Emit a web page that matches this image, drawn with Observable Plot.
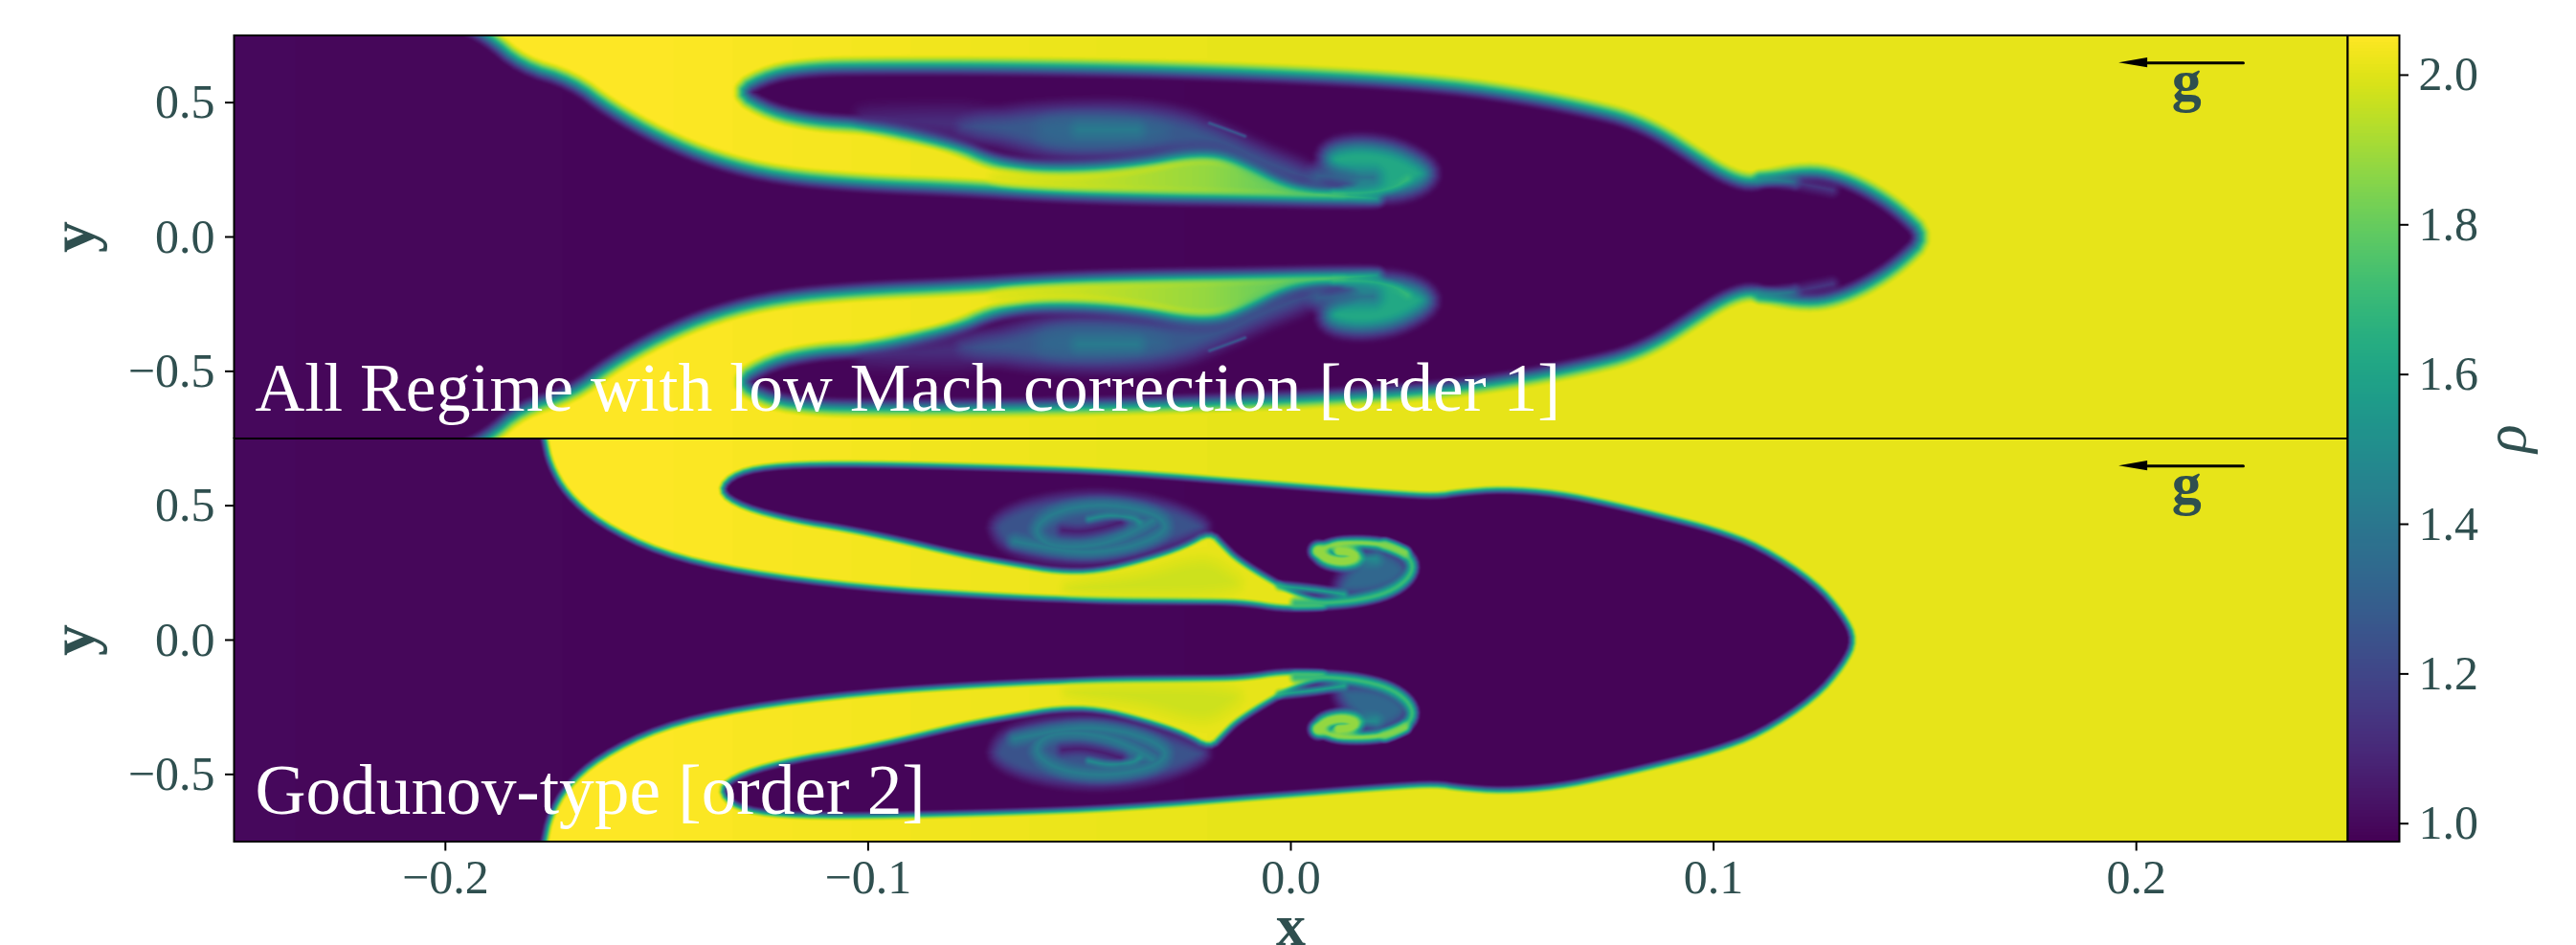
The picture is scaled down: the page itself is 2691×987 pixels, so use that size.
<!DOCTYPE html>
<html><head><meta charset="utf-8">
<style>html,body{margin:0;background:#fff;overflow:hidden}#c{position:relative;width:2691px;height:987px;overflow:hidden}#c svg{position:absolute;left:0}</style>
<script src="https://cdn.jsdelivr.net/npm/d3@7"></script>
<script src="https://cdn.jsdelivr.net/npm/@observablehq/plot@0.6"></script>
</head><body><div id="c"></div>
<script>
// Tick values and labels
const xTicks=[-.2,-.1,0,.1,.2], yTicks=[-.5,0,.5], rhoTicks=[1,1.2,1.4,1.6,1.8,2];
const rhoDomain=[.976,2.053];
const titles=["All Regime with low Mach correction [order 1]","Godunov-type [order 2]"];
// Gravity arrow, data coordinates
const arrowShaft=[{x:.2027,y:.648},{x:.2253,y:.648}];
const arrowHead=[{x:.1959,y1:.648,y2:.648},{x:.2027,y1:.630,y2:.666}];
// Density away from the interface, against x: [x, rho]
const heavyStops=[[-.25,2.05],[-.15,2.05],[-.1,2.035],[-.05,2.02],[0,2.012],[.25,2.012]];
const lightStops=[[-.25,.998],[-.13,.99],[.25,.985]];
// Upper half outlines (the flow mirrors about y=0), read as [x, y]
const p1Interface=[[-.197,.8],[-.19,.75],[-.182,.64],[-.170,.584],[-.161,.477],[-.149,.37],[-.136,.285],[-.121,.228],[-.1014,.2],[-.0788,.185],[-.0562,.1615],[-.0335,.15],[-.0109,.146],[.0118,.138],[.0231,.14],[.0118,.165],[.0027,.179],[-.0034,.215],[-.0086,.2625],[-.0147,.304],[-.0199,.316],[-.026,.31],[-.0335,.284],[-.0448,.2625],[-.0562,.2565],[-.0637,.263],[-.0713,.286],[-.0788,.3396],[-.093,.405],[-.1014,.417],[-.1128,.428],[-.123,.463],[-.1315,.54],[-.123,.61],[-.1128,.632],[-.1014,.636],[-.067,.635],[-.028,.623],[.011,.597],[.037,.567],[.0566,.522],[.072,.472],[.0797,.4406],[.0872,.388],[.0948,.31],[.1024,.232],[.1085,.2],[.1129,.221],[.122,.245],[.1288,.23],[.1363,.18],[.1438,.103],[.1505,0],[.1438,-.103],[.1,-.5],[-.5,-.5],[-.5,1],[-.2,1]];
const p1Finger=[[-.0713,.2506],[-.0562,.2268],[-.0448,.2328],[-.0335,.2541],[-.026,.2803],[-.0199,.2886],[-.0146,.2767],[-.0086,.2387],[-.0033,.1971],[.0027,.1674],[.0156,.1532],[.0027,.1532],[-.0109,.1615],[-.0335,.1698],[-.0562,.1769],[-.0713,.1971]];
const p1FingerRho=[[-.08,2.02],[-.05,1.96],[-.02,1.88],[0,1.78],[.015,1.72]];
const p1Tail=[[-.105,.46],[-.09,.47],[-.07,.47],[-.07,.36],[-.09,.39]];
const p1VortexOuter=[[-.0788,.417],[-.0675,.462],[-.0524,.482],[-.0373,.482],[-.026,.456],[-.0169,.399],[-.0071,.322],[.0042,.251],[.008,.203],[.0005,.203],[-.0071,.251],[-.0146,.31],[-.0199,.328],[-.0297,.316],[-.041,.304],[-.0562,.304],[-.0675,.352],[-.075,.387]];
const p1VortexInner=[[-.0599,.441],[-.0433,.447],[-.0275,.405],[-.0335,.352],[-.0486,.334],[-.0599,.357]];
const p1VortexCore=[[-.0501,.399],[-.0365,.399]];
const p1Streak=[[-.0192,.423],[-.0146,.397],[-.0109,.375]];
const p1Lobe=[[.008,.328],[.0156,.356],[.0254,.335],[.034,.255],[.0315,.185],[.0231,.15],[.012,.172],[.0156,.203],[.008,.251]];
const p1LobeCore=[[.0065,.227],[.0193,.221]];
const p1LobeRim=[[.0103,.1615],[.0193,.165],[.0246,.185],[.0276,.215]];
const p1BumpTeal=[[.111,.218],[.119,.205]];
const p1BumpBlue=[[.12,.2],[.128,.175]];

const p2Interface=[[-.177,.8],[-.1766,.75],[-.1753,.655],[-.1714,.545],[-.1635,.435],[-.1492,.324],[-.1298,.253],[-.1014,.196],[-.072,.165],[-.0494,.1495],[-.0192,.145],[-.0101,.138],[-.0026,.119],[.005,.119],[.0088,.1235],[.005,.1532],[-.0003,.1852],[-.0041,.2185],[-.0086,.26],[-.0131,.3075],[-.0154,.343],[-.0192,.405],[-.0252,.349],[-.0343,.3016],[-.0456,.256],[-.0554,.256],[-.0645,.28],[-.072,.30],[-.08,.325],[-.093,.374],[-.106,.416],[-.1168,.442],[-.1298,.495],[-.1355,.556],[-.1311,.625],[-.1207,.652],[-.1014,.656],[-.067,.642],[-.041,.626],[-.002,.577],[.024,.545],[.0344,.536],[.04,.55],[.05,.562],[.063,.547],[.076,.505],[.089,.456],[.1,.412],[.111,.349],[.124,.215],[.1307,.093],[.1335,0],[.1307,-.093],[.1,-.5],[-.5,-.5],[-.5,1],[-.18,1]];
const p2Finger=[[-.055,.205],[-.035,.245],[-.024,.3],[-.018,.3],[-.01,.2],[-.02,.165],[-.05,.17]];
const p2VortexOuter=[[-.0697,.373],[-.071,.444],[-.0629,.51],[-.0494,.545],[-.0358,.532],[-.0252,.485],[-.0185,.42],[-.0252,.373],[-.0343,.325],[-.0456,.2897],[-.0569,.2957],[-.066,.331]];
const p2Ring=[[-.0652,.367],[-.0509,.323],[-.0403,.335],[-.032,.379],[-.029,.4263],[-.0327,.474],[-.0418,.5035],[-.0509,.4976],[-.0577,.462],[-.0607,.4085],[-.058,.355],[-.0516,.343],[-.0433,.361],[-.0365,.4085],[-.0327,.444]];
const p2Dark=[[-.0539,.4085],[-.0494,.4025],[-.0441,.42],[-.0403,.438]];
const p2Hook=[[-.0478,.45],[-.0433,.4655],[-.0373,.456],[-.0358,.438]];
const p2SpiralFill=[[.0163,.3016],[.0224,.3413],[.0285,.272],[.0256,.2025],[.0186,.167],[.0105,.1705],[.012,.2422]];
const p2SpiralTeal=[[.0156,.3016],[.02,.3016]];
const p2Tail=[[-.0026,.2007],[.005,.1888],[.0125,.171]];
const p2Spiral=[[.0012,.1377],[.0088,.1377],[.0163,.1496],[.0231,.177],[.0276,.2244],[.0291,.2779],[.0269,.3254],[.0224,.355]];
const p2SpiralTop=[[.0269,.3254],[.0224,.355],[.0163,.3634],[.0103,.3586],[.0065,.3313]];
const p2SpiralEye=[[.0065,.3313],[.0084,.3016],[.0125,.2897],[.0155,.3075],[.014,.3277],[.0114,.3313]];

// Frame geometry
const W=2691,fL=244,fR=2452,fT=36.5,panelH=421;
const pxX=(fR-fL)/.5, pxY=panelH/1.5;
const ink="#2f4f4f", serif="'Liberation Serif',serif";

function stops(s,x){if(x<=s[0][0])return s[0][1];for(let i=1;i<s.length;i++){if(x<=s[i][0]){const a=s[i-1],b=s[i];return a[1]+(b[1]-a[1])*(x-a[0])/(b[0]-a[0]);}}return s[s.length-1][1];}
// Corner cutting rounds the read outlines into curves
function round(pts,closed){let P=pts;for(let k=0;k<2;k++){const Q=[];const n=P.length;if(!closed)Q.push(P[0]);
  for(let i=0;i<(closed?n:n-1);i++){const a=P[i],b=P[(i+1)%n];Q.push([a[0]*.75+b[0]*.25,a[1]*.75+b[1]*.25],[a[0]*.25+b[0]*.75,a[1]*.25+b[1]*.75]);}
  if(!closed)Q.push(P[n-1]);P=Q;}return P;}
function layer(kind,raw,rho,edge,w=0){const pts=round(raw,kind==="area");const m=edge+w+1;const xs=pts.map(p=>p[0]),ys=pts.map(p=>p[1]);
 return {kind,pts,rho,edge,w,x0:d3.min(xs)-m/pxX,x1:d3.max(xs)+m/pxX,y0:d3.min(ys)-m/pxY,y1:d3.max(ys)+m/pxY};}
const area=(p,r,e)=>layer("area",p,r,e), stroke=(p,r,w,e)=>layer("line",p,r,e,w);
function cover(L,x,y){
 if(x<L.x0||x>L.x1||y<L.y0||y>L.y1)return 0;
 const P=L.pts,n=P.length;let best=1e18,inside=false;
 const segs=L.kind==="area"?n:n-1;
 for(let i=0;i<segs;i++){
  const a=P[i],b=P[(i+1)%n];
  const ax=(x-a[0])*pxX,ay=(y-a[1])*pxY,bx=(b[0]-a[0])*pxX,by=(b[1]-a[1])*pxY;
  const l=bx*bx+by*by;let u=l?(ax*bx+ay*by)/l:0;u=u<0?0:u>1?1:u;
  const dx=ax-u*bx,dy=ay-u*by,d=dx*dx+dy*dy;if(d<best)best=d;
  if(L.kind==="area"&&((a[1]>y)!==(b[1]>y))&&x<a[0]+(y-a[1])*(b[0]-a[0])/(b[1]-a[1]))inside=!inside;
 }
 const dist=Math.sqrt(best);
 const sd=L.kind==="area"?(inside?dist:-dist):L.w-dist;
 let t=(sd+L.edge)/(2*L.edge);t=t<0?0:t>1?1:t;
 return t*t*(3-2*t);
}
function field(layers){return (x,y)=>{const ay=Math.abs(y);let v=stops(heavyStops,x);
 for(const L of layers){const t=cover(L,x,ay);if(t>0){const r=typeof L.rho==="number"?L.rho:stops(L.rho,x);v+=(r-v)*t;}}return v;};}

const p1Layers=[
 area(p1Interface,lightStops,13),
 area(p1Finger,p1FingerRho,8),
 area(p1Tail,1.12,18),
 area(p1VortexOuter,1.27,16),
 area(p1VortexInner,1.33,14),
 stroke(p1VortexCore,1.44,5,12),
 stroke(p1Streak,1.4,.5,3),
 area(p1Lobe,1.62,15),
 stroke(p1LobeCore,1.33,6,14),
 stroke(p1LobeRim,1.72,2,7),
 stroke(p1BumpTeal,1.5,3,9),
 stroke(p1BumpBlue,1.22,2,10)
];
const p2Layers=[
 area(p2Interface,lightStops,6),
 area(p2Finger,1.97,14),
 area(p2VortexOuter,1.25,11),
 stroke(p2Ring,1.45,5,9),
 stroke(p2Dark,1.03,4,8),
 stroke(p2Hook,1.55,2,5),
 area(p2SpiralFill,1.33,12),
 stroke(p2SpiralTeal,1.55,4,10),
 stroke(p2Tail,1.65,3,5),
 stroke(p2Spiral,1.7,5,5),
 stroke(p2SpiralTop,1.85,5,5),
 stroke(p2SpiralEye,1.88,8,6)
];

const colorScale={type:"linear",scheme:"viridis",domain:rhoDomain};
const shared={width:W,x:{domain:[-.25,.25]},y:{domain:[-.75,.75]},color:colorScale,marginLeft:fL,marginRight:W-fR,style:{background:"transparent"}};
function panel(layers,title,titleSize,opts,extra){
 const f=field(layers);
 return Plot.plot({...shared,...opts,marks:[
  Plot.raster({x1:-.25,x2:.25,y1:-.75,y2:.75,pixelSize:1,fill:(x,y)=>f(x,y)}),
  Plot.frame({stroke:"black",strokeWidth:2}),
  Plot.axisY(yTicks,{anchor:"left",tickSize:9,tickPadding:11,fontSize:50,fontFamily:serif,fill:ink,stroke:"black",strokeWidth:2,tickFormat:d3.format(".1f"),label:null}),
  Plot.text(["y"],{frameAnchor:"left",dx:-168,rotate:-90,textAnchor:"middle",fontSize:66,fontWeight:"bold",fontFamily:serif,fill:ink}),
  Plot.text([title],{frameAnchor:"bottom-left",dx:22,dy:-29,textAnchor:"start",lineAnchor:"bottom",fontSize:titleSize,fontFamily:serif,fill:"white"}),
  Plot.line(arrowShaft,{x:"x",y:"y",stroke:"black",strokeWidth:3}),
  Plot.areaY(arrowHead,{x:"x",y1:"y1",y2:"y2",fill:"black"}),
  Plot.text(["g"],{x:()=>.2119,y:()=>.58,fontSize:62,fontWeight:"bold",fontFamily:serif,fill:ink}),
  ...extra
 ]});
}
const c=document.getElementById("c");
const top1=panel(p1Layers,titles[0],71.7,{height:458,marginTop:fT,marginBottom:.5,x:{domain:[-.25,.25],axis:null}},[]);
top1.style.top="0px";
const top2=panel(p2Layers,titles[1],73.3,{height:530,marginTop:.5,marginBottom:108.5},[
  Plot.axisX(xTicks,{anchor:"bottom",tickSize:10,tickPadding:8,fontSize:50,fontFamily:serif,fill:ink,stroke:"black",strokeWidth:2,tickFormat:d3.format(".1f"),label:null}),
  Plot.text(["x"],{frameAnchor:"bottom",dy:88,lineAnchor:"middle",fontSize:62,fontWeight:"bold",fontFamily:serif,fill:ink})
]);
top2.style.top="457px";
const bar=Plot.plot({width:W,height:987,marginLeft:fR,marginRight:W-2506,marginTop:fT,marginBottom:108.5,style:{background:"transparent"},
 x:{domain:[0,1],axis:null},y:{domain:rhoDomain},color:colorScale,marks:[
  Plot.raster({x1:0,x2:1,y1:rhoDomain[0],y2:rhoDomain[1],pixelSize:1,fill:(x,y)=>y}),
  Plot.frame({stroke:"black",strokeWidth:2}),
  Plot.axisY(rhoTicks,{anchor:"right",tickSize:9,tickPadding:11,fontSize:50,fontFamily:serif,fill:ink,stroke:"black",strokeWidth:2,tickFormat:d3.format(".1f"),label:null}),
  Plot.text(["ρ"],{frameAnchor:"right",dx:112,rotate:-90,textAnchor:"middle",fontSize:62,fontStyle:"italic",fontFamily:serif,fill:ink})
 ]});
bar.style.top="0px";
c.append(top1,top2,bar);
</script></body></html>
